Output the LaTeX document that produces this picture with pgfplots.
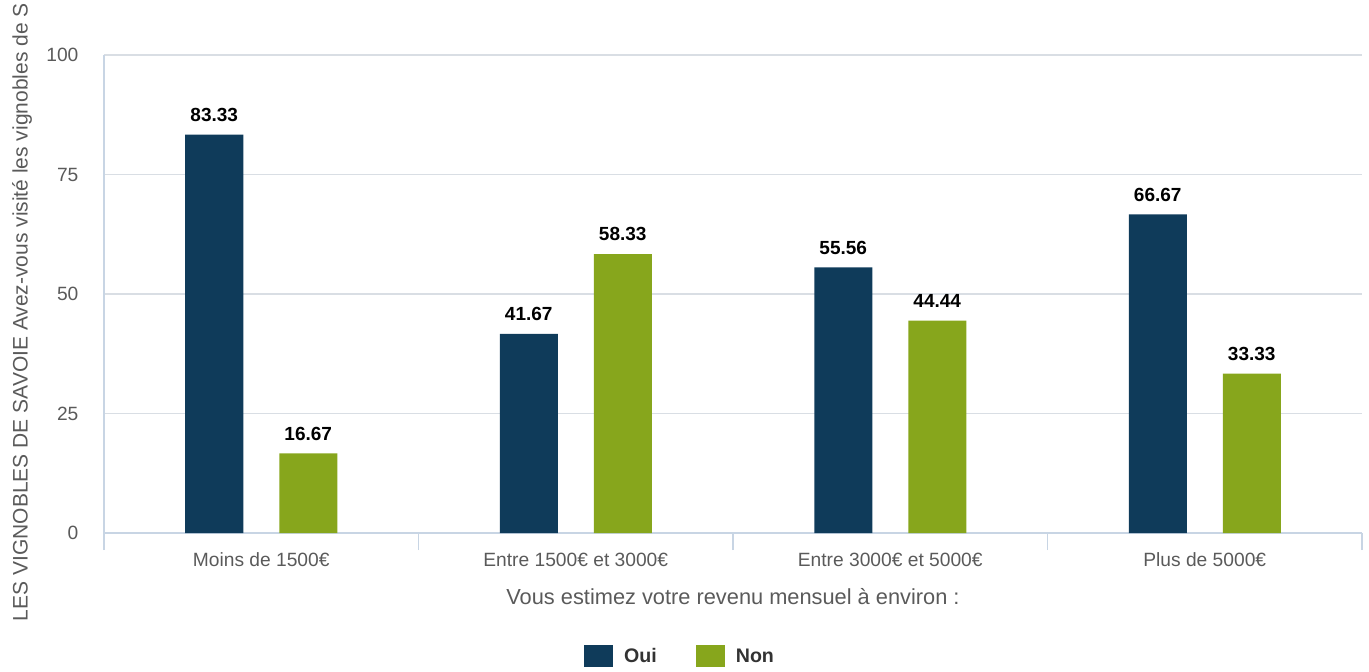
\documentclass[border=0pt]{standalone}
\usepackage{pgfplots}
\pgfplotsset{compat=1.18}
\usepackage{fontspec}
\setmainfont{Liberation Sans}
\definecolor{oui}{HTML}{0F3B5A}
\definecolor{non}{HTML}{87A61C}
\definecolor{gridc}{HTML}{D9DEE4}
\definecolor{axc}{HTML}{C8D5E4}
\definecolor{txt}{HTML}{5A5A5A}
\begin{document}
\begin{tikzpicture}
\useasboundingbox (-52pt,-69pt) rectangle (632.5pt,266.5pt);
\begin{axis}[
  scale only axis, width=629pt, height=239pt,
  xmin=-0.5, xmax=3.5, ymin=0, ymax=100,
  ybar=18pt, bar width=29pt,
  axis x line*=bottom, axis y line*=left,
  axis line style={axc, line width=0.8pt},
  xtick={0,1,2,3},
  xticklabels={Moins de 1500€, Entre 1500€ et 3000€, Entre 3000€ et 5000€, Plus de 5000€},
  minor xtick={-0.5,0.5,1.5,2.5,3.5},
  major x tick style={draw=none},
  minor x tick style={axc, line width=0.8pt},
  minor tick length=8.5pt,
  tick align=outside,
  ytick={0,25,50,75,100},
  major y tick style={draw=none},
  ymajorgrids, grid style={gridc, line width=0.6pt},
  /pgf/number format/assume math mode=true,
  ticklabel style={font=\fontsize{9.6}{11}\selectfont, text=txt},
  yticklabel style={xshift=-5pt},
  xticklabel style={yshift=-2pt},
  xlabel={Vous estimez votre revenu mensuel à environ :},
  xlabel style={font=\fontsize{10.9}{12}\selectfont, text=txt, at={(axis description cs:0.5,0)}, anchor=center, yshift=-32pt},
  ylabel={LES VIGNOBLES DE SAVOIE Avez-vous visité les vignobles de S},
  ylabel style={font=\fontsize{10.5}{12}\selectfont, text=txt, at={(axis description cs:-0.0652,0.462)}, anchor=center, rotate=0},
  nodes near coords,
  nodes near coords style={font=\bfseries\fontsize{9.5}{11}\selectfont, text=black, yshift=3pt, /pgf/number format/fixed, /pgf/number format/precision=2, /pgf/number format/fixed zerofill},
  legend style={at={(axis description cs:0.4615,-0.257)}, anchor=center, draw=none, legend columns=2, font=\bfseries\fontsize{9.8}{11}\selectfont, text=black!80, nodes={text height=7pt, text depth=0pt, inner xsep=5.5pt}, /tikz/every even column/.append style={column sep=14pt}},
  legend image code/.code={\fill[#1] (0pt,-5.5pt) rectangle (14.5pt,5.5pt);},
]
\addplot[fill=oui, draw=none] coordinates {(0,83.33) (1,41.67) (2,55.56) (3,66.67)};
\addplot[fill=non, draw=none] coordinates {(0,16.67) (1,58.33) (2,44.44) (3,33.33)};
\legend{Oui, Non}
\end{axis}
\end{tikzpicture}
\end{document}
